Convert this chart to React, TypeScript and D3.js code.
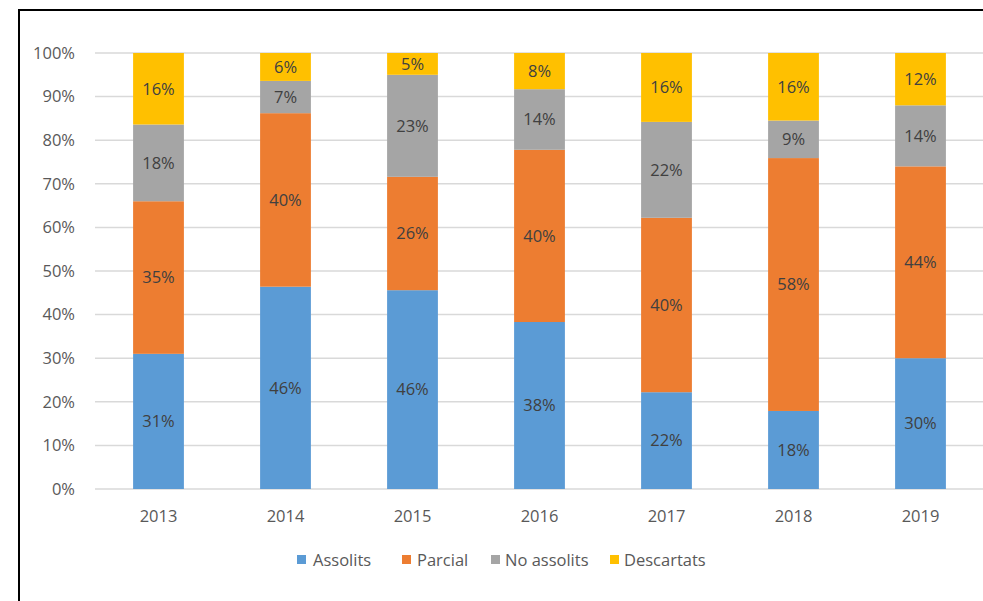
import React from "react";
import * as d3 from "d3";

const years = ["2013", "2014", "2015", "2016", "2017", "2018", "2019"];
const seriesNames = ["Assolits", "Parcial", "No assolits", "Descartats"];
const assolits = [31, 46.4, 45.6, 38.3, 22.2, 17.9, 30];
const parcial = [35, 39.8, 26, 39.5, 40, 58, 44];
const noAssolits = [17.6, 7.4, 23.4, 13.9, 22, 8.6, 14];
const descartats = [16.4, 6.4, 5, 8.3, 15.8, 15.5, 12];
const yTicks = [0, 10, 20, 30, 40, 50, 60, 70, 80, 90, 100];
const colors = ["#5B9BD5", "#ED7D31", "#A5A5A5", "#FFC000"];

const W = 983;
const H = 601;
const FONT = "'Open Sans', 'Liberation Sans', sans-serif";
const FS = 16.5;

export default function App() {
  const x = d3.scaleBand<string>().domain(years).range([95, 984]).paddingInner(0.6).paddingOuter(0.3);
  const y = d3.scaleLinear().domain([0, 100]).range([489, 53]);
  const rows = years.map((yr, i) => ({
    year: yr,
    Assolits: assolits[i],
    Parcial: parcial[i],
    "No assolits": noAssolits[i],
    Descartats: descartats[i],
  }));
  const stack = d3.stack<any>().keys(seriesNames);
  const layers = stack(rows);

  const legendItems = [
    { name: "Assolits", sx: 297, tx: 313 },
    { name: "Parcial", sx: 402, tx: 417 },
    { name: "No assolits", sx: 491, tx: 505 },
    { name: "Descartats", sx: 610, tx: 624 },
  ];

  return (
    <svg
      width={W}
      height={H}
      style={{ position: "absolute", left: 0, top: 0, background: "#fff", overflow: "hidden" }}
      fontFamily={FONT}
    >
      <line x1={18} x2={W} y1={10} y2={10} stroke="#000" strokeWidth={2} />
      <line x1={19} x2={19} y1={9} y2={H} stroke="#000" strokeWidth={2} />
      {yTicks.map((t) => (
        <g key={t}>
          <line x1={95} x2={983} y1={y(t)} y2={y(t)} stroke="#D9D9D9" strokeWidth={1.5} />
          <text x={75} y={y(t)} dy="0.35em" textAnchor="end" fontSize={FS} fill="#595959">
            {t}%
          </text>
        </g>
      ))}
      {layers.map((layer, si) => (
        <g key={layer.key}>
          {layer.map((d, i) => {
            const yr = years[i];
            const x0 = x(yr)!;
            const top = y(d[1]);
            const bot = y(d[0]);
            return (
              <g key={yr}>
                <rect x={x0} y={top} width={x.bandwidth()} height={bot - top} fill={colors[si]} />
                <text
                  x={x0 + x.bandwidth() / 2}
                  y={(top + bot) / 2}
                  dy="0.35em"
                  textAnchor="middle"
                  fontSize={FS}
                  fill="#404040"
                >
                  {Math.round(d[1] - d[0])}%
                </text>
              </g>
            );
          })}
        </g>
      ))}
      {years.map((yr) => (
        <text
          key={yr}
          x={x(yr)! + x.bandwidth() / 2}
          y={516}
          dy="0.35em"
          textAnchor="middle"
          fontSize={FS}
          fill="#595959"
        >
          {yr}
        </text>
      ))}
      {legendItems.map((it, i) => (
        <g key={it.name}>
          <rect x={it.sx} y={555} width={9} height={9} fill={colors[i]} />
          <text x={it.tx} y={560} dy="0.35em" fontSize={FS} fill="#595959">
            {it.name}
          </text>
        </g>
      ))}
    </svg>
  );
}
